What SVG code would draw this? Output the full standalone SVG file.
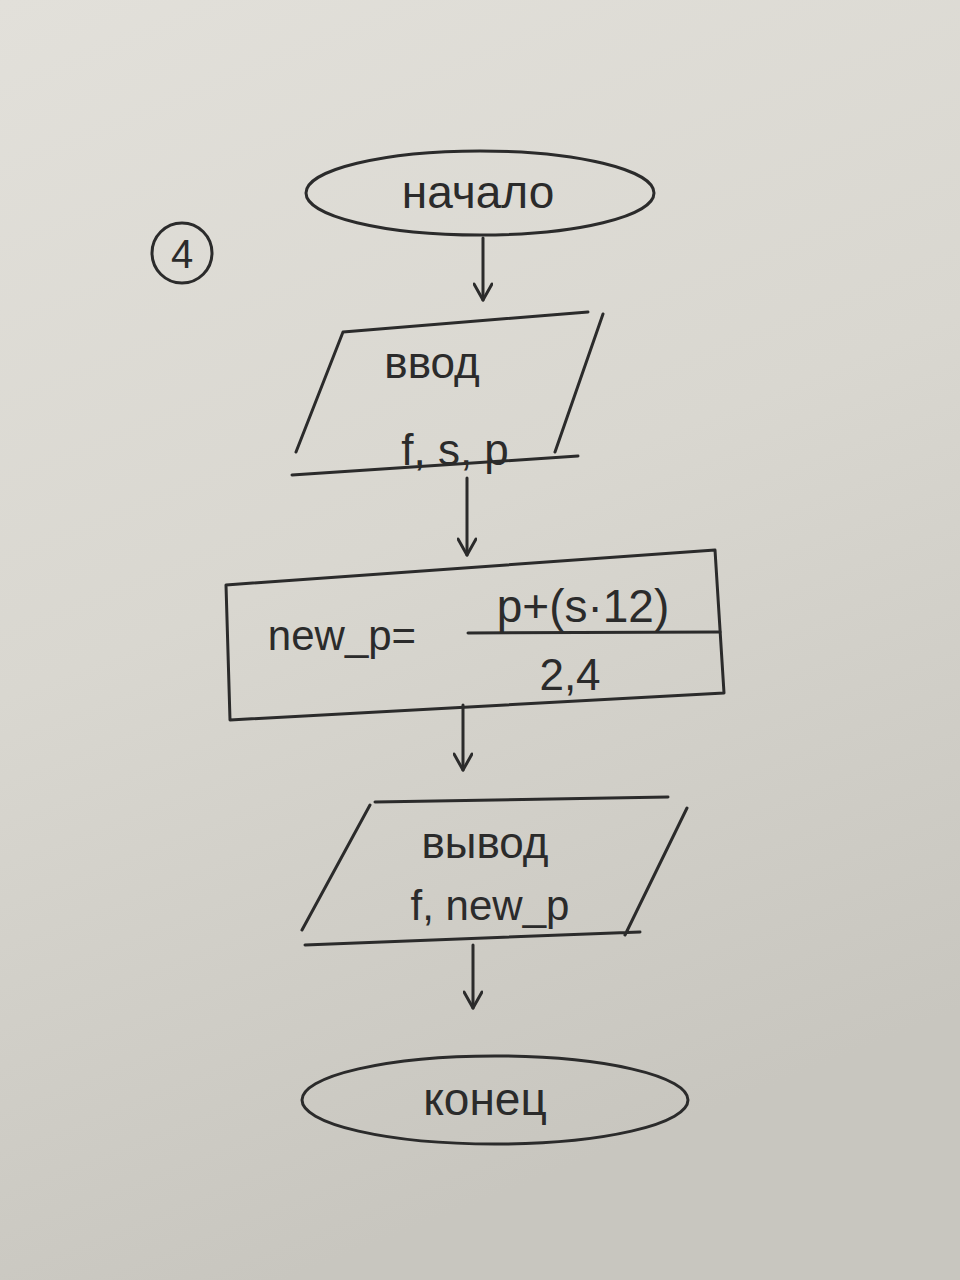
<svg xmlns="http://www.w3.org/2000/svg" width="960" height="1280" viewBox="0 0 960 1280">
  <defs>
    <linearGradient id="paper" x1="0" y1="0" x2="0.3" y2="1">
      <stop offset="0" stop-color="#e2e0da"/>
      <stop offset="0.5" stop-color="#d9d7d0"/>
      <stop offset="1" stop-color="#c8c6bf"/>
    </linearGradient>
    <marker id="arrow" viewBox="0 0 20 20" refX="18" refY="10" markerWidth="20" markerHeight="20" markerUnits="userSpaceOnUse" orient="auto">
      <path d="M2,1 L18,10 L2,19" fill="none" stroke="#2b2b2b" stroke-width="3" stroke-linecap="round" stroke-linejoin="round"/>
    </marker>
    <style>
      .ink { fill: none; stroke: #2b2b2b; stroke-width: 3; stroke-linecap: round; stroke-linejoin: round; }
      .txt { font-family: "Liberation Sans", "DejaVu Sans", sans-serif; fill: #2b2b2b; text-anchor: middle; }
      .conn { fill: none; stroke: #2b2b2b; stroke-width: 3; stroke-linecap: round; }
    </style>
  </defs>
  <rect width="960" height="1280" fill="url(#paper)"/>

  <g id="label4">
    <circle class="ink" cx="182" cy="253" r="30"/>
    <text class="txt" x="182" y="268" font-size="40">4</text>
  </g>

  <g id="start">
    <ellipse class="ink" cx="480" cy="193" rx="174" ry="42"/>
    <text class="txt" x="478" y="208" font-size="46">начало</text>
  </g>

  <g id="input">
    <path class="ink" d="M343,332 L588,312 M603,314 L555,452 M343,332 L296,452 M292,475 L578,456"/>
    <text class="txt" x="432" y="378" font-size="44">ввод</text>
    <text class="txt" x="455" y="465" font-size="44">f, s, p</text>
  </g>

  <g id="process">
    <path class="ink" d="M226,585 L715,550 L724,693 L230,720 Z"/>
    <path class="ink" d="M468,633 L720,632"/>
    <text class="txt" x="342" y="650" font-size="42">new_p=</text>
    <text class="txt" x="583" y="622" font-size="46">p+(s·12)</text>
    <text class="txt" x="570" y="690" font-size="44">2,4</text>
  </g>

  <g id="output">
    <path class="ink" d="M375,802 L668,797 M370,805 L302,930 M687,808 L625,935 M305,945 L640,932"/>
    <text class="txt" x="485" y="858" font-size="44">вывод</text>
    <text class="txt" x="490" y="920" font-size="42">f, new_p</text>
  </g>

  <g id="end">
    <ellipse class="ink" cx="495" cy="1100" rx="193" ry="44"/>
    <text class="txt" x="485" y="1115" font-size="46">конец</text>
  </g>

  <g id="connectors">
    <line class="conn" x1="483" y1="238" x2="483" y2="300" marker-end="url(#arrow)"/>
    <line class="conn" x1="467" y1="478" x2="467" y2="555" marker-end="url(#arrow)"/>
    <line class="conn" x1="463" y1="705" x2="463" y2="770" marker-end="url(#arrow)"/>
    <line class="conn" x1="473" y1="945" x2="473" y2="1008" marker-end="url(#arrow)"/>
  </g>
</svg>
